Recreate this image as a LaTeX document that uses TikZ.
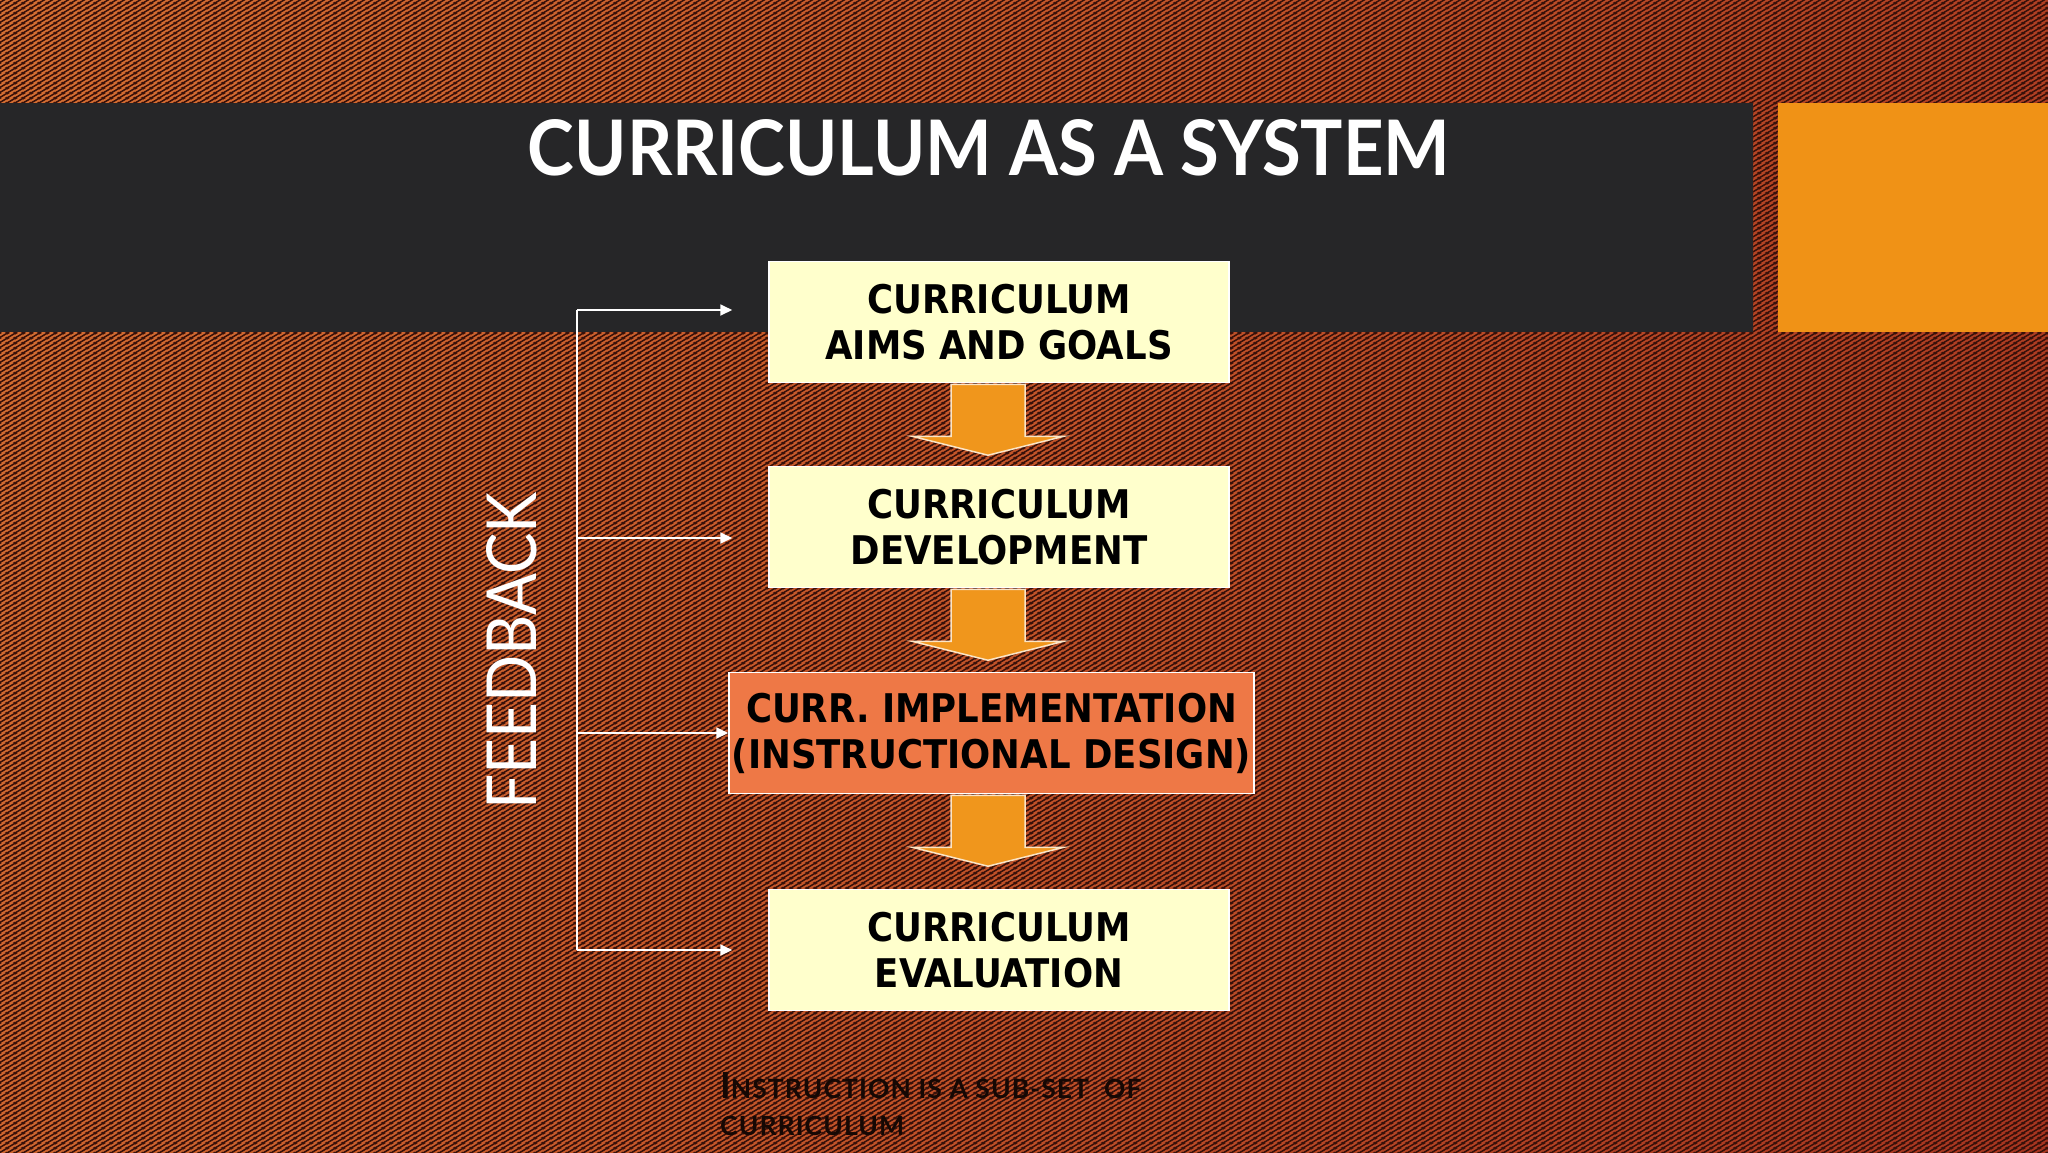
\documentclass[tikz,border=0pt]{standalone}
\usepackage{fontspec}
\usepackage{graphicx}
\usetikzlibrary{arrows.meta,patterns}

\newfontfamily\boxfont[FakeStretch=0.9]{DejaVu Sans}
\newfontfamily\slidefont{Lato}
\newfontfamily\notefont[LetterSpace=4]{Lato}

\definecolor{bgL}{RGB}{222,126,56}
\definecolor{bgM}{RGB}{198,88,42}
\definecolor{bgR}{RGB}{152,36,27}
\definecolor{bgdark}{RGB}{55,17,10}
\definecolor{barfill}{RGB}{38,38,40}
\definecolor{squarefill}{RGB}{240,146,22}
\definecolor{boxfill}{RGB}{255,255,204}
\definecolor{implfill}{RGB}{238,120,70}
\definecolor{arrowfill}{RGB}{240,150,28}
\definecolor{notetext}{RGB}{22,8,4}

\pgfdeclarehorizontalshading{bgshade}{100bp}{color(0bp)=(bgL); color(45bp)=(bgM); color(100bp)=(bgR)}
\pgfdeclarepatternformonly{bgstripes}{\pgfqpoint{0pt}{0pt}}{\pgfqpoint{8pt}{5pt}}{\pgfqpoint{8pt}{5pt}}{
  \pgfsetlinewidth{1.8pt}
  \pgfpathmoveto{\pgfqpoint{-8pt}{-5pt}}\pgfpathlineto{\pgfqpoint{16pt}{10pt}}
  \pgfpathmoveto{\pgfqpoint{-8pt}{0pt}}\pgfpathlineto{\pgfqpoint{16pt}{15pt}}
  \pgfpathmoveto{\pgfqpoint{-8pt}{-10pt}}\pgfpathlineto{\pgfqpoint{16pt}{5pt}}
  \pgfusepath{stroke}}

\begin{document}
\begin{tikzpicture}[x=1pt,y=1pt,yscale=-1,xscale=1,
  stepbox/.style={rectangle, fill=boxfill, draw=white, line width=1.5pt,
    minimum width=460pt, minimum height=121pt, inner sep=0pt, align=center,
    text=black, font=\boxfont\bfseries\fontsize{39.5}{46}\selectfont},
  flowarrow/.style={fill=arrowfill, draw=white!75!arrowfill, line width=1.5pt, line join=miter},
  fbline/.style={draw=white, line width=1.8pt},
  fbarrow/.style={fbline, -{Triangle[length=12pt,width=11pt]}}]
\useasboundingbox (0,0) rectangle (2048,1152);

% background
\shade[shading=bgshade, shading angle=-20] (0,0) rectangle (2048,1152);
\fill[pattern=bgstripes, pattern color=bgdark] (0,0) rectangle (2048,1152);

% title bar and square
\fill[barfill] (0,103) rectangle (1753,332);
\fill[squarefill] (1778,103) rectangle (2048,332);
\node[anchor=base, inner sep=0pt, text=white] (title) at (989,175)
  {\resizebox{922pt}{56pt}{\slidefont\bfseries CURRICULUM AS A SYSTEM}};

% boxes
\node[stepbox] (b1) at (999,322) {CURRICULUM\\AIMS AND GOALS};
\node[stepbox] (b2) at (999,527) {CURRICULUM\\DEVELOPMENT};
\node[stepbox, fill=implfill, minimum width=525pt] (b3) at (991.5,733) {CURR. IMPLEMENTATION\\(INSTRUCTIONAL DESIGN)};
\node[stepbox] (b4) at (999,950) {CURRICULUM\\EVALUATION};

% block arrows
\coordinate (ax) at (988,0);
\foreach \src in {b1,b2,b3}{
  \draw[flowarrow] (ax |- \src.south) ++(-37,1) -- ++(0,52) -- ++(-39,0) -- ++(76,19)
    -- ++(76,-19) -- ++(-39,0) -- ++(0,-52) -- cycle;
}

% feedback
\coordinate (fb1) at (577,310);
\coordinate (fb2) at (577,538);
\coordinate (fb3) at (577,733);
\coordinate (fb4) at (577,950);
\draw[fbline] (fb1) -- (fb4);
\draw[fbarrow, shorten >=36pt] (fb1) -- (fb1 -| b1.west);
\draw[fbarrow, shorten >=36pt] (fb2) -- (fb2 -| b2.west);
\draw[fbarrow] (fb3) -- (b3.west);
\draw[fbarrow, shorten >=36pt] (fb4) -- (fb4 -| b4.west);
\node[rotate=90, inner sep=0pt, text=white] (fbtext) at (512,651)
  {\resizebox{317pt}{50pt}{\slidefont FEEDBACK}};

% note
\node[anchor=base west, inner sep=0pt, align=left, text=notetext,
  font=\notefont\bfseries\fontsize{26.5}{37}\selectfont] (note) at (720,1135)
  {{\fontsize{36}{37}\selectfont I}NSTRUCTION IS A SUB-SET \ OF\\CURRICULUM};

\end{tikzpicture}
\end{document}
